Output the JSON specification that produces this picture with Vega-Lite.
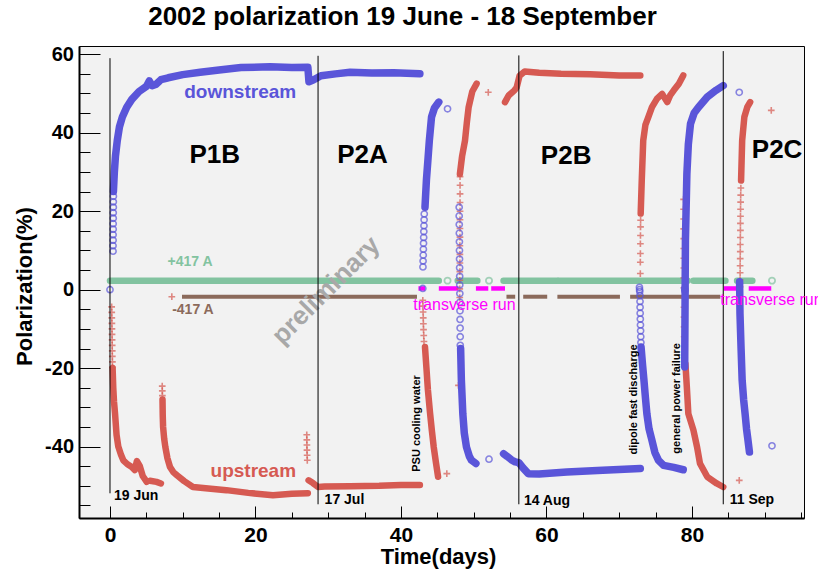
{
  "$schema": "https://vega.github.io/schema/vega-lite/v6.json",
  "width": 725,
  "height": 472,
  "autosize": {"type": "none"},
  "padding": {"left": 79, "top": 46, "right": 14, "bottom": 51},
  "background": "white",
  "config": {
    "view": {"fill": "#f2f2f2", "stroke": "black", "strokeWidth": 1},
    "font": "Liberation Sans"
  },
  "title": {
    "text": "2002 polarization 19 June - 18 September",
    "font": "Liberation Sans", "fontSize": 26, "fontWeight": "bold", "color": "black",
    "frame": "group", "anchor": "middle", "dx": -39, "offset": 14
  },
  "datasets": {
    "down": [
      {"seg": "D1", "t": 0.47, "v": 25}, {"seg": "D1", "t": 0.6, "v": 30}, {"seg": "D1", "t": 0.75, "v": 34},
      {"seg": "D1", "t": 1.0, "v": 38}, {"seg": "D1", "t": 1.3, "v": 41.5}, {"seg": "D1", "t": 1.7, "v": 44},
      {"seg": "D1", "t": 2.3, "v": 46.5}, {"seg": "D1", "t": 3.0, "v": 48.5}, {"seg": "D1", "t": 4.0, "v": 50.5},
      {"seg": "D1", "t": 5.0, "v": 51.8}, {"seg": "D1", "t": 5.4, "v": 53.2}, {"seg": "D1", "t": 5.8, "v": 52.0},
      {"seg": "D1", "t": 6.3, "v": 52.3}, {"seg": "D1", "t": 7.0, "v": 53.5}, {"seg": "D1", "t": 8.0, "v": 54.0},
      {"seg": "D1", "t": 10.0, "v": 54.8}, {"seg": "D1", "t": 12.4, "v": 55.4}, {"seg": "D1", "t": 15.0, "v": 56.0},
      {"seg": "D1", "t": 18.0, "v": 56.6}, {"seg": "D1", "t": 22.0, "v": 56.8}, {"seg": "D1", "t": 25.0, "v": 56.6},
      {"seg": "D1", "t": 27.2, "v": 56.7}, {"seg": "D1", "t": 27.35, "v": 53.0}, {"seg": "D1", "t": 28.0, "v": 53.5},
      {"seg": "D1", "t": 29.0, "v": 54.5}, {"seg": "D1", "t": 31.0, "v": 55.0}, {"seg": "D1", "t": 33.0, "v": 55.4},
      {"seg": "D1", "t": 36.0, "v": 55.2}, {"seg": "D1", "t": 39.0, "v": 55.3}, {"seg": "D1", "t": 42.6, "v": 55.0},
      {"seg": "D2", "t": 43.3, "v": 21}, {"seg": "D2", "t": 43.5, "v": 28}, {"seg": "D2", "t": 43.7, "v": 33},
      {"seg": "D2", "t": 43.9, "v": 38}, {"seg": "D2", "t": 44.2, "v": 44}, {"seg": "D2", "t": 44.6, "v": 46.3},
      {"seg": "D2", "t": 45.2, "v": 47.8},
      {"seg": "D3", "t": 48.2, "v": -15}, {"seg": "D3", "t": 48.3, "v": -23}, {"seg": "D3", "t": 48.5, "v": -31.6},
      {"seg": "D3", "t": 48.7, "v": -36.5}, {"seg": "D3", "t": 49.0, "v": -40.1}, {"seg": "D3", "t": 49.4, "v": -42.5},
      {"seg": "D3", "t": 49.7, "v": -43.5}, {"seg": "D3", "t": 50.3, "v": -44.3},
      {"seg": "D4", "t": 54.1, "v": -41.8}, {"seg": "D4", "t": 54.6, "v": -42.5}, {"seg": "D4", "t": 55.2, "v": -43.4},
      {"seg": "D4", "t": 55.7, "v": -43.9}, {"seg": "D4", "t": 56.2, "v": -44.1}, {"seg": "D4", "t": 56.8, "v": -45.5},
      {"seg": "D4", "t": 57.5, "v": -46.9}, {"seg": "D4", "t": 59.0, "v": -47.0}, {"seg": "D4", "t": 62.8, "v": -46.5},
      {"seg": "D4", "t": 67.0, "v": -46.1}, {"seg": "D4", "t": 72.9, "v": -45.6},
      {"seg": "D5", "t": 73.0, "v": -14.6}, {"seg": "D5", "t": 73.2, "v": -19}, {"seg": "D5", "t": 73.4, "v": -23.1},
      {"seg": "D5", "t": 73.6, "v": -27.5}, {"seg": "D5", "t": 73.8, "v": -31.6}, {"seg": "D5", "t": 74.1, "v": -35.5},
      {"seg": "D5", "t": 74.5, "v": -38.4}, {"seg": "D5", "t": 74.9, "v": -41.5}, {"seg": "D5", "t": 75.4, "v": -43.5},
      {"seg": "D5", "t": 76.1, "v": -44.8}, {"seg": "D5", "t": 77.5, "v": -45.3}, {"seg": "D5", "t": 78.8, "v": -45.9},
      {"seg": "D6", "t": 79.0, "v": -19.7}, {"seg": "D6", "t": 79.03, "v": -10}, {"seg": "D6", "t": 79.06, "v": 0},
      {"seg": "D6", "t": 79.1, "v": 12.6}, {"seg": "D6", "t": 79.3, "v": 29.5}, {"seg": "D6", "t": 79.5, "v": 37},
      {"seg": "D6", "t": 79.8, "v": 42.3}, {"seg": "D6", "t": 80.3, "v": 45}, {"seg": "D6", "t": 80.9, "v": 46.5},
      {"seg": "D6", "t": 82.1, "v": 49.1}, {"seg": "D6", "t": 83.3, "v": 50.8}, {"seg": "D6", "t": 84.3, "v": 52},
      {"seg": "D7", "t": 86.55, "v": 2}, {"seg": "D7", "t": 86.6, "v": -6.1}, {"seg": "D7", "t": 86.75, "v": -15},
      {"seg": "D7", "t": 86.9, "v": -23.1}, {"seg": "D7", "t": 87.1, "v": -28}, {"seg": "D7", "t": 87.3, "v": -31.6},
      {"seg": "D7", "t": 87.5, "v": -35.5}, {"seg": "D7", "t": 87.7, "v": -38.4}, {"seg": "D7", "t": 87.9, "v": -41.4}
    ],
    "up": [
      {"seg": "U1", "t": 0.36, "v": -20}, {"seg": "U1", "t": 0.45, "v": -25}, {"seg": "U1", "t": 0.55, "v": -28.5},
      {"seg": "U1", "t": 0.69, "v": -31.5}, {"seg": "U1", "t": 0.9, "v": -37}, {"seg": "U1", "t": 1.14, "v": -40},
      {"seg": "U1", "t": 1.5, "v": -42}, {"seg": "U1", "t": 1.83, "v": -43.5}, {"seg": "U1", "t": 2.4, "v": -44.5},
      {"seg": "U1", "t": 3.0, "v": -45.2}, {"seg": "U1", "t": 3.4, "v": -46}, {"seg": "U1", "t": 3.7, "v": -43.7},
      {"seg": "U1", "t": 4.1, "v": -45}, {"seg": "U1", "t": 4.5, "v": -47.5}, {"seg": "U1", "t": 5.05, "v": -49},
      {"seg": "U1b", "t": 5.5, "v": -48.7}, {"seg": "U1b", "t": 6.4, "v": -49.0}, {"seg": "U1b", "t": 7.0, "v": -49.4},
      {"seg": "U2", "t": 7.22, "v": -28}, {"seg": "U2", "t": 7.25, "v": -32}, {"seg": "U2", "t": 7.3, "v": -35},
      {"seg": "U2", "t": 7.45, "v": -38}, {"seg": "U2", "t": 7.6, "v": -40}, {"seg": "U2", "t": 7.9, "v": -43},
      {"seg": "U2", "t": 8.25, "v": -45.2}, {"seg": "U2", "t": 8.7, "v": -46.5}, {"seg": "U2", "t": 9.2, "v": -47.3},
      {"seg": "U2", "t": 10.2, "v": -48.8}, {"seg": "U2", "t": 11.4, "v": -50.3}, {"seg": "U2", "t": 13.5, "v": -50.7},
      {"seg": "U2", "t": 16.0, "v": -51.1}, {"seg": "U2", "t": 19.0, "v": -51.8}, {"seg": "U2", "t": 22.4, "v": -52.4},
      {"seg": "U2", "t": 25.0, "v": -52.0}, {"seg": "U2", "t": 27.2, "v": -51.9},
      {"seg": "U3", "t": 27.3, "v": -48.6}, {"seg": "U3", "t": 27.9, "v": -49.3}, {"seg": "U3", "t": 28.6, "v": -50.3},
      {"seg": "U3", "t": 29.5, "v": -50.2}, {"seg": "U3", "t": 33.0, "v": -50.1}, {"seg": "U3", "t": 37.0, "v": -50.0},
      {"seg": "U3", "t": 40.0, "v": -49.8}, {"seg": "U3", "t": 42.6, "v": -49.8},
      {"seg": "U4", "t": 43.3, "v": -14.6}, {"seg": "U4", "t": 43.5, "v": -20}, {"seg": "U4", "t": 43.7, "v": -25.5},
      {"seg": "U4", "t": 44.0, "v": -31.5}, {"seg": "U4", "t": 44.25, "v": -36}, {"seg": "U4", "t": 44.5, "v": -40.1},
      {"seg": "U4", "t": 44.8, "v": -44}, {"seg": "U4", "t": 45.1, "v": -47.7},
      {"seg": "U5", "t": 48.1, "v": 29.5}, {"seg": "U5", "t": 48.4, "v": 34}, {"seg": "U5", "t": 48.8, "v": 38},
      {"seg": "U5", "t": 49.05, "v": 42.5}, {"seg": "U5", "t": 49.3, "v": 46.5}, {"seg": "U5", "t": 49.8, "v": 50.5},
      {"seg": "U5", "t": 50.4, "v": 52.5},
      {"seg": "U6", "t": 54.3, "v": 47.8}, {"seg": "U6", "t": 54.8, "v": 49.5}, {"seg": "U6", "t": 55.6, "v": 50.8},
      {"seg": "U6", "t": 55.9, "v": 51.5}, {"seg": "U6", "t": 56.3, "v": 54.5}, {"seg": "U6", "t": 57.0, "v": 55.6},
      {"seg": "U6", "t": 59.0, "v": 55.3}, {"seg": "U6", "t": 62.0, "v": 55.0}, {"seg": "U6", "t": 66.0, "v": 54.9},
      {"seg": "U6", "t": 70.0, "v": 54.6}, {"seg": "U6", "t": 72.9, "v": 54.6},
      {"seg": "U7", "t": 72.95, "v": 19.4}, {"seg": "U7", "t": 73.1, "v": 28}, {"seg": "U7", "t": 73.3, "v": 38},
      {"seg": "U7", "t": 73.6, "v": 42}, {"seg": "U7", "t": 74.0, "v": 44}, {"seg": "U7", "t": 74.5, "v": 46.5},
      {"seg": "U7", "t": 75.2, "v": 48.7}, {"seg": "U7", "t": 75.9, "v": 49.9}, {"seg": "U7", "t": 76.6, "v": 47.8},
      {"seg": "U7", "t": 77.0, "v": 49.5}, {"seg": "U7", "t": 77.5, "v": 50.8}, {"seg": "U7", "t": 78.2, "v": 52.5},
      {"seg": "U7", "t": 78.8, "v": 54.6},
      {"seg": "U8", "t": 79.1, "v": -18.9}, {"seg": "U8", "t": 79.3, "v": -25}, {"seg": "U8", "t": 79.5, "v": -31.6},
      {"seg": "U8", "t": 80.2, "v": -35.8}, {"seg": "U8", "t": 80.7, "v": -40.1}, {"seg": "U8", "t": 81.1, "v": -44.3},
      {"seg": "U8", "t": 82.1, "v": -47.7}, {"seg": "U8", "t": 83.4, "v": -49.4}, {"seg": "U8", "t": 84.3, "v": -50.3},
      {"seg": "U9", "t": 86.75, "v": 27.8}, {"seg": "U9", "t": 86.9, "v": 38}, {"seg": "U9", "t": 87.2, "v": 44},
      {"seg": "U9", "t": 87.6, "v": 46.5}, {"seg": "U9", "t": 88.0, "v": 47.8}
    ],
    "downpts": [
      {"t": 0, "v": 0},
      {"t": 0.42, "v": 9.8}, {"t": 0.42, "v": 11.2}, {"t": 0.43, "v": 12.6}, {"t": 0.43, "v": 14}, {"t": 0.44, "v": 15.4},
      {"t": 0.44, "v": 16.8}, {"t": 0.45, "v": 18.2}, {"t": 0.45, "v": 19.6}, {"t": 0.46, "v": 21}, {"t": 0.46, "v": 22.4}, {"t": 0.47, "v": 23.8},
      {"t": 43.0, "v": 0.3},
      {"t": 43.02, "v": 5.8}, {"t": 43.04, "v": 7.3}, {"t": 43.06, "v": 8.8}, {"t": 43.08, "v": 10.3}, {"t": 43.1, "v": 11.8},
      {"t": 43.12, "v": 13.3}, {"t": 43.14, "v": 14.8}, {"t": 43.16, "v": 16.3}, {"t": 43.18, "v": 17.8}, {"t": 43.2, "v": 19.3},
      {"t": 46.4, "v": 46.1},
      {"t": 48.0, "v": 21}, {"t": 48.0, "v": 18.8}, {"t": 48.01, "v": 16.6}, {"t": 48.02, "v": 14.4}, {"t": 48.03, "v": 12.2},
      {"t": 48.04, "v": 10}, {"t": 48.05, "v": 7.8}, {"t": 48.06, "v": 5.6}, {"t": 48.07, "v": 3.4}, {"t": 48.08, "v": 1.2},
      {"t": 48.09, "v": -1}, {"t": 48.1, "v": -3.2}, {"t": 48.11, "v": -5.4}, {"t": 48.12, "v": -7.6}, {"t": 48.13, "v": -9.8},
      {"t": 48.14, "v": -12}, {"t": 48.15, "v": -14.2},
      {"t": 52.1, "v": -43.2},
      {"t": 72.78, "v": 0.6}, {"t": 72.8, "v": 0}, {"t": 72.82, "v": -0.5},
      {"t": 72.85, "v": -1.5}, {"t": 72.86, "v": -3}, {"t": 72.87, "v": -4.5}, {"t": 72.88, "v": -6}, {"t": 72.9, "v": -7.5},
      {"t": 72.92, "v": -9}, {"t": 72.94, "v": -10.5}, {"t": 72.96, "v": -12}, {"t": 72.98, "v": -13.5},
      {"t": 79.0, "v": 0.3}, {"t": 79.02, "v": -0.3},
      {"t": 86.5, "v": 50.3},
      {"t": 91.0, "v": -39.8}
    ],
    "uppts": [
      {"t": 0.23, "v": -4.4}, {"t": 0.24, "v": -5.8}, {"t": 0.25, "v": -7.2}, {"t": 0.26, "v": -8.6}, {"t": 0.27, "v": -10},
      {"t": 0.28, "v": -11.4}, {"t": 0.29, "v": -12.8}, {"t": 0.3, "v": -14.2}, {"t": 0.31, "v": -15.6}, {"t": 0.32, "v": -17},
      {"t": 0.33, "v": -18.4}, {"t": 0.34, "v": -19.8},
      {"t": 7.18, "v": -24.6}, {"t": 7.19, "v": -25.8}, {"t": 7.2, "v": -27},
      {"t": 27.05, "v": -37}, {"t": 27.06, "v": -38.3}, {"t": 27.07, "v": -39.6}, {"t": 27.08, "v": -40.9}, {"t": 27.1, "v": -42.2}, {"t": 27.12, "v": -43.5},
      {"t": 43.0, "v": -2.7}, {"t": 43.02, "v": -4.2}, {"t": 43.04, "v": -5.7}, {"t": 43.06, "v": -7.2}, {"t": 43.08, "v": -8.7},
      {"t": 43.1, "v": -10.2}, {"t": 43.13, "v": -11.7}, {"t": 43.16, "v": -13.2},
      {"t": 46.3, "v": -46.9},
      {"t": 47.9, "v": -24.4},
      {"t": 48.08, "v": -2}, {"t": 48.08, "v": 0.2}, {"t": 48.09, "v": 2.4}, {"t": 48.09, "v": 4.6}, {"t": 48.1, "v": 6.8},
      {"t": 48.1, "v": 9}, {"t": 48.1, "v": 11.2}, {"t": 48.11, "v": 13.4}, {"t": 48.11, "v": 15.6}, {"t": 48.11, "v": 17.8},
      {"t": 48.12, "v": 20}, {"t": 48.12, "v": 22.2}, {"t": 48.12, "v": 24.4}, {"t": 48.12, "v": 26.6}, {"t": 48.12, "v": 28.8},
      {"t": 52.0, "v": 50.3},
      {"t": 72.9, "v": 4.1}, {"t": 72.9, "v": 7.0}, {"t": 72.91, "v": 9.2}, {"t": 72.91, "v": 11.7}, {"t": 72.92, "v": 13.8},
      {"t": 72.93, "v": 16}, {"t": 72.94, "v": 17.7},
      {"t": 78.85, "v": 23}, {"t": 78.85, "v": 20.5}, {"t": 78.86, "v": 18}, {"t": 78.86, "v": 15.5}, {"t": 78.87, "v": 13},
      {"t": 78.87, "v": 10.5}, {"t": 78.88, "v": 8}, {"t": 78.88, "v": 5.5}, {"t": 78.89, "v": 3}, {"t": 78.89, "v": 0.5},
      {"t": 78.9, "v": -2}, {"t": 78.9, "v": -4.5}, {"t": 78.91, "v": -7}, {"t": 78.92, "v": -9.5}, {"t": 78.93, "v": -12},
      {"t": 78.94, "v": -14.5}, {"t": 78.95, "v": -17},
      {"t": 86.6, "v": 0.7}, {"t": 86.61, "v": 2.5}, {"t": 86.62, "v": 4.3}, {"t": 86.62, "v": 6.1}, {"t": 86.63, "v": 7.9},
      {"t": 86.64, "v": 9.7}, {"t": 86.64, "v": 11.5}, {"t": 86.65, "v": 13.3}, {"t": 86.66, "v": 15.1}, {"t": 86.66, "v": 16.9},
      {"t": 86.67, "v": 18.7}, {"t": 86.68, "v": 20.5}, {"t": 86.69, "v": 22.3}, {"t": 86.7, "v": 24.1}, {"t": 86.72, "v": 25.9},
      {"t": 86.5, "v": -48.6},
      {"t": 90.9, "v": 45.7},
      {"t": 8.5, "v": -1.8}
    ],
    "green": [
      {"t": 0, "t2": 42.6, "v": 2.3}, {"t": 42.9, "t2": 45.2, "v": 2.3}, {"t": 47.8, "t2": 50.5, "v": 2.3},
      {"t": 54.1, "t2": 61.5, "v": 2.3}, {"t": 61.7, "t2": 79.4, "v": 2.3}, {"t": 80.2, "t2": 84.6, "v": 2.3},
      {"t": 86.2, "t2": 88.3, "v": 2.3}
    ],
    "greenpts": [
      {"t": 46.4, "v": 2.3}, {"t": 52.1, "v": 2.3}, {"t": 91.0, "v": 2.3}
    ],
    "brown": [
      {"t": 9.9, "t2": 42.2, "v": -1.8}, {"t": 54.5, "t2": 55.7, "v": -1.8}, {"t": 56.8, "t2": 60.1, "v": -1.8},
      {"t": 61.5, "t2": 70.1, "v": -1.8}, {"t": 71.5, "t2": 83.9, "v": -1.8}
    ],
    "magenta": [
      {"t": 42.4, "t2": 43.3, "v": 0.3}, {"t": 45.2, "t2": 47.9, "v": 0.3}, {"t": 50.3, "t2": 52.0, "v": 0.3},
      {"t": 52.4, "t2": 54.3, "v": 0.3}, {"t": 84.4, "t2": 86.4, "v": 0.3}, {"t": 87.8, "t2": 90.9, "v": 0.3}
    ],
    "dates": [
      {"t": 0, "v": -51.9, "v2": 59.0, "label": "19 Jun", "tl": 0.55, "vl": -52.5},
      {"t": 28.6, "v": -54.7, "v2": 59.6, "label": "17 Jul", "tl": 29.5, "vl": -53.7},
      {"t": 56.2, "v": -54.7, "v2": 59.7, "label": "14 Aug", "tl": 56.9, "vl": -53.9},
      {"t": 84.3, "v": -54.7, "v2": 60.8, "label": "11 Sep", "tl": 85.2, "vl": -53.7}
    ],
    "periods": [
      {"label": "P1B", "t": 14.4, "v": 34.3}, {"label": "P2A", "t": 34.7, "v": 34.2},
      {"label": "P2B", "t": 62.7, "v": 34.1}, {"label": "P2C", "t": 91.7, "v": 35.6}
    ],
    "events": [
      {"label": "PSU cooling water", "t": 42.2, "v": -34.1},
      {"label": "dipole fast discharge", "t": 72.1, "v": -28.0},
      {"label": "general power failure", "t": 77.9, "v": -27.7}
    ],
    "transverse": [
      {"label": "transverse run", "t": 41.7, "v": -3.8},
      {"label": "transverse run", "t": 83.9, "v": -2.7}
    ]
  },
  "encoding": {
    "x": {
      "field": "t", "type": "quantitative",
      "scale": {"domain": [-4.26, 95.4], "nice": false, "zero": false},
      "axis": {
        "title": "Time(days)",
        "values": [0, 5, 10, 15, 20, 25, 30, 35, 40, 45, 50, 55, 60, 65, 70, 75, 80, 85, 90, 95],
        "labelExpr": "datum.value % 20 === 0 ? '' + datum.value : ''",
        "tickSize": {"condition": {"test": "datum.value % 20 === 0", "value": -12}, "value": -6},
        "tickColor": "black", "tickWidth": 1,
        "domain": true, "domainColor": "black", "domainWidth": 2, "grid": false,
        "labelFont": "Liberation Sans", "labelFontSize": 21, "labelFontWeight": "bold", "labelColor": "black",
        "labelPadding": 18, "labelFlush": false, "labelOverlap": false,
        "titleFont": "Liberation Sans", "titleFontSize": 22, "titleFontWeight": "bold", "titleColor": "black",
        "titleX": 359, "titleY": 45, "titleBaseline": "alphabetic", "titleAlign": "center"
      }
    },
    "y": {
      "field": "v", "type": "quantitative",
      "scale": {"domain": [-58.2, 62.1], "nice": false, "zero": false},
      "axis": {
        "title": "Polarization(%)",
        "values": [-55, -50, -45, -40, -35, -30, -25, -20, -15, -10, -5, 0, 5, 10, 15, 20, 25, 30, 35, 40, 45, 50, 55, 60],
        "labelExpr": "datum.value % 20 === 0 ? '' + datum.value : ''",
        "tickSize": {"condition": {"test": "datum.value % 20 === 0", "value": -21}, "value": -11},
        "tickColor": "black", "tickWidth": 1,
        "domain": true, "domainColor": "black", "domainWidth": 2, "grid": false,
        "labelFont": "Liberation Sans", "labelFontSize": 20, "labelFontWeight": "bold", "labelColor": "black",
        "labelPadding": 26.5, "labelFlush": false, "labelOverlap": false,
        "titleFont": "Liberation Sans", "titleFontSize": 22, "titleFontWeight": "bold", "titleColor": "black",
        "titleX": -47.5, "titleY": 240, "titleBaseline": "alphabetic", "titleAlign": "center", "titleAngle": 270
      }
    }
  },
  "layer": [
    {
      "data": {"name": "magenta"},
      "mark": {"type": "rule", "color": "#ff00ff", "strokeWidth": 4.5},
      "encoding": {"x2": {"field": "t2"}}
    },
    {
      "data": {"name": "brown"},
      "mark": {"type": "rule", "color": "#8b6a5b", "strokeWidth": 4},
      "encoding": {"x2": {"field": "t2"}}
    },
    {
      "data": {"name": "green"},
      "mark": {"type": "rule", "color": "#82c3a0", "strokeWidth": 6.5, "strokeCap": "round"},
      "encoding": {"x2": {"field": "t2"}}
    },
    {
      "data": {"name": "greenpts"},
      "mark": {"type": "point", "shape": "circle", "filled": false, "color": "#82c3a0", "strokeWidth": 1.8, "size": 38},
      "encoding": {}
    },
    {
      "data": {"values": [{"label": "preliminary", "t": 29.7, "v": -0.2}]},
      "mark": {"type": "text", "font": "Liberation Sans", "fontSize": 26, "fontWeight": "bold", "color": "#a8a8a8", "angle": 315, "align": "center", "baseline": "middle"},
      "encoding": {"text": {"field": "label"}}
    },
    {
      "data": {"name": "up"},
      "mark": {"type": "line", "color": "#d65a52", "strokeWidth": 6.5, "strokeCap": "round", "strokeJoin": "round"},
      "encoding": {"detail": {"field": "seg"}}
    },
    {
      "data": {"name": "uppts"},
      "mark": {"type": "point", "shape": "M-1,0H1M0,-1V1", "filled": false, "color": "#d65a52", "strokeWidth": 1.6, "size": 45},
      "encoding": {}
    },
    {
      "data": {"name": "down"},
      "mark": {"type": "line", "color": "#5a55d9", "strokeWidth": 7.5, "strokeCap": "round", "strokeJoin": "round"},
      "encoding": {"detail": {"field": "seg"}}
    },
    {
      "data": {"name": "downpts"},
      "mark": {"type": "point", "shape": "circle", "filled": false, "color": "#5a55d9", "strokeWidth": 1.6, "size": 38},
      "encoding": {}
    },
    {
      "data": {"name": "dates"},
      "mark": {"type": "rule", "color": "black", "strokeWidth": 1},
      "encoding": {"y2": {"field": "v2"}}
    },
    {
      "data": {"name": "dates"},
      "mark": {"type": "text", "font": "Liberation Sans", "fontSize": 14, "fontWeight": "bold", "color": "black", "align": "left", "baseline": "middle"},
      "encoding": {"x": {"field": "tl", "type": "quantitative"}, "y": {"field": "vl", "type": "quantitative"}, "text": {"field": "label"}}
    },
    {
      "data": {"name": "periods"},
      "mark": {"type": "text", "font": "Liberation Sans", "fontSize": 26, "fontWeight": "bold", "color": "black", "align": "center", "baseline": "middle"},
      "encoding": {"text": {"field": "label"}}
    },
    {
      "data": {"name": "events"},
      "mark": {"type": "text", "font": "Liberation Sans", "fontSize": 11, "fontWeight": "bold", "color": "black", "align": "center", "baseline": "middle", "angle": 270},
      "encoding": {"text": {"field": "label"}}
    },
    {
      "data": {"name": "transverse"},
      "mark": {"type": "text", "font": "Liberation Sans", "fontSize": 16, "color": "#ff00ff", "align": "left", "baseline": "middle"},
      "encoding": {"text": {"field": "label"}}
    },
    {
      "data": {"values": [{"label": "downstream", "t": 17.9, "v": 50.3}]},
      "mark": {"type": "text", "font": "Liberation Sans", "fontSize": 19, "fontWeight": "bold", "color": "#5a55d9", "align": "center", "baseline": "middle"},
      "encoding": {"text": {"field": "label"}}
    },
    {
      "data": {"values": [{"label": "upstream", "t": 19.7, "v": -46.1}]},
      "mark": {"type": "text", "font": "Liberation Sans", "fontSize": 19, "fontWeight": "bold", "color": "#d65a52", "align": "center", "baseline": "middle"},
      "encoding": {"text": {"field": "label"}}
    },
    {
      "data": {"values": [{"label": "+417 A", "t": 11.0, "v": 7.0}]},
      "mark": {"type": "text", "font": "Liberation Sans", "fontSize": 14, "fontWeight": "bold", "color": "#82c3a0", "align": "center", "baseline": "middle"},
      "encoding": {"text": {"field": "label"}}
    },
    {
      "data": {"values": [{"label": "-417 A", "t": 11.4, "v": -5.3}]},
      "mark": {"type": "text", "font": "Liberation Sans", "fontSize": 14, "fontWeight": "bold", "color": "#8b6a5b", "align": "center", "baseline": "middle"},
      "encoding": {"text": {"field": "label"}}
    }
  ]
}
